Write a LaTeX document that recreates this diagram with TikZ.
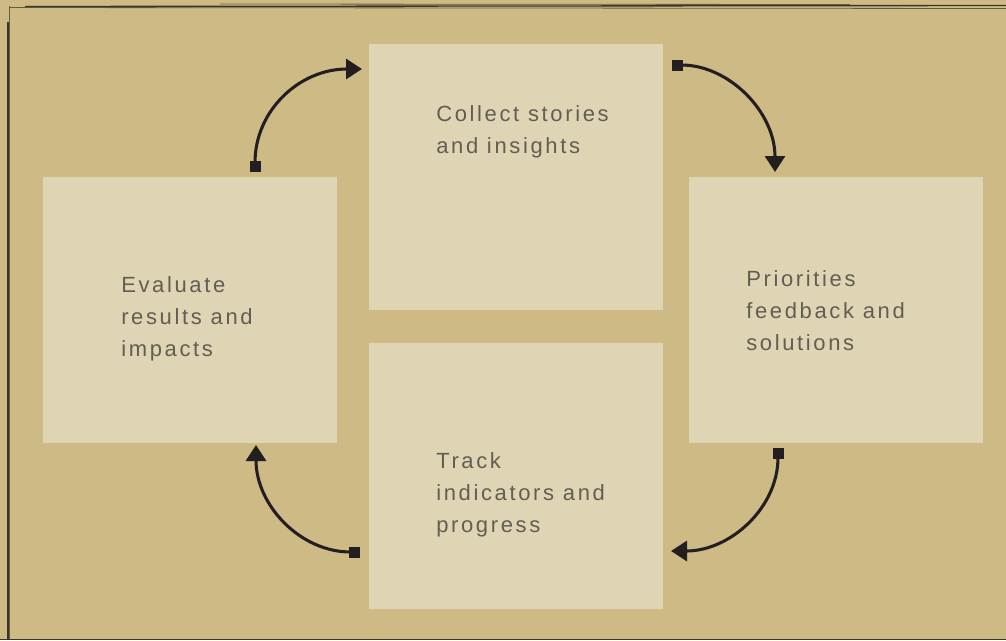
\documentclass[tikz,border=0pt]{standalone}
\usepackage{fontspec}
\usetikzlibrary{arrows.meta}
\newfontfamily\labfont[LetterSpace=12]{Liberation Sans}
\definecolor{bgtan}{HTML}{CDBA85}
\definecolor{boxfill}{HTML}{DFD5B4}
\definecolor{inkdark}{HTML}{231F20}
\definecolor{txtgray}{HTML}{625D55}
\definecolor{edgeline}{HTML}{3A3528}
\tikzset{
  stagebox/.style={draw=none, fill=boxfill, minimum width=220.5pt, minimum height=199.5pt, inner sep=0, anchor=north west},
  stagelabel/.style={font=\labfont\fontsize{16.5pt}{24pt}\selectfont, text=txtgray, align=left, inner sep=0, anchor=north west},
  cyclearrow/.style={draw=inkdark, line width=2.3pt, {Square[length=8.25pt,width=8.25pt]}-{Triangle[length=12pt,width=15pt]}}
}
\begin{document}
\begin{tikzpicture}[x=0.75pt,y=-0.75pt]
\useasboundingbox (0,0) rectangle (1006,640);
\fill[bgtan] (0,0) rectangle (1006,640);
% sketchy frame lines
\draw[edgeline, line width=1pt] (25,6.5) -- (1006,5.5);
\draw[edgeline, line width=0.6pt, opacity=0.7] (220,4) -- (850,4.5);
\draw[edgeline, line width=0.6pt, opacity=0.7] (10,7.5) -- (1006,8.5);
\draw[edgeline, line width=1.2pt] (8,22) -- (8,640);
\draw[edgeline, line width=0.5pt, opacity=0.7] (9.5,6) -- (9.5,640);
\draw[edgeline, line width=0.8pt] (0,639.5) -- (1006,639.5);
% boxes
\node[stagebox] (top) at (369,44) {};
\node[stagebox] (left) at (43,177) {};
\node[stagebox] (right) at (689,177) {};
\node[stagebox] (bottom) at (369,343) {};
% labels
\node[stagelabel] (toplab) at (436,105) {Collect stories\\and insights};
\node[stagelabel] (leftlab) at (121,276) {Evaluate\\results and\\impacts};
\node[stagelabel] (rightlab) at (746,270) {Priorities\\feedback and\\solutions};
\node[stagelabel] (bottomlab) at (436,452) {Track\\indicators and\\progress};
% arrow end points
\coordinate (a1s) at (255,172);
\coordinate (a1e) at (362,69);
\coordinate (a2s) at (672,65);
\coordinate (a2e) at (775,172);
\coordinate (a3s) at (778,448);
\coordinate (a3e) at (671,551);
\coordinate (a4s) at (360,552);
\coordinate (a4e) at (256,445);
\draw[cyclearrow] (a1s) .. controls (255,110) and (300,69) .. (a1e);
\draw[cyclearrow] (a2s) .. controls (729,65) and (775,112) .. (a2e);
\draw[cyclearrow] (a3s) .. controls (778,508) and (730,551) .. (a3e);
\draw[cyclearrow] (a4s) .. controls (300,552) and (256,505) .. (a4e);
\end{tikzpicture}
\end{document}
